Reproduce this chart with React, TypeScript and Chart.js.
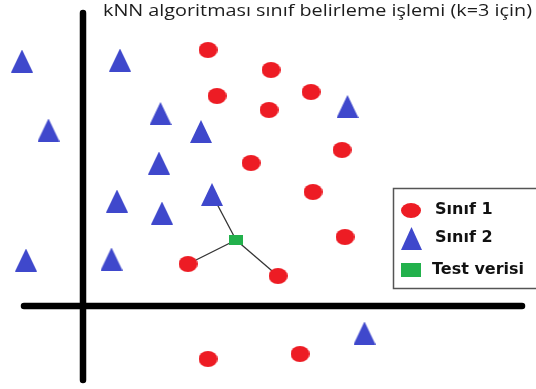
import React, { useEffect, useRef } from "react";
import { Chart, registerables } from "chart.js";
Chart.register(...registerables);

const TITLE = "kNN algoritması sınıf belirleme işlemi (k=3 için)";
const LABELS = ["Sınıf 1", "Sınıf 2", "Test verisi"];

// Class 1 (red) points
const sinif1X = [208, 271, 217, 311, 269, 342, 251, 313, 345, 188, 278, 208, 300];
const sinif1Y = [50, 70, 96, 92, 110, 150, 163, 192, 237, 264, 276, 359, 354];
// Class 2 (blue) points
const sinif2X = [22, 120, 48.5, 160.5, 201, 347.5, 159, 117, 162, 212, 26, 111.5, 364.5];
const sinif2Y = [61, 60, 130, 113.5, 131.5, 106.5, 163, 201, 213, 194.5, 260, 259, 333];
// Test point
const testX = [236];
const testY = [240];
// k=3 nearest neighbours: [class, index]
const neighbours: [number, number][] = [[2, 9], [1, 9], [1, 10]];

const RED = "#ed1c24";
const BLUE = "#3f48cc";
const GREEN = "#22b14c";

function makeIcon(kind: string, w: number, h: number, color: string) {
  const c = document.createElement("canvas");
  c.width = w;
  c.height = h;
  const ctx = c.getContext("2d")!;
  ctx.fillStyle = color;
  ctx.beginPath();
  if (kind === "ellipse") {
    ctx.ellipse(w / 2, h / 2, w / 2, h / 2, 0, 0, Math.PI * 2);
  } else if (kind === "triangle") {
    ctx.moveTo(w / 2, 0);
    ctx.lineTo(w, h);
    ctx.lineTo(0, h);
    ctx.closePath();
  } else {
    ctx.rect(0, 0, w, h);
  }
  ctx.fill();
  return c;
}

export default function App() {
  const ref = useRef<HTMLCanvasElement | null>(null);
  useEffect(() => {
    const redImg = makeIcon("ellipse", 19, 16, RED);
    const blueImg = makeIcon("triangle", 22, 23, BLUE);
    const greenImg = makeIcon("rect", 14, 10, GREEN);
    const redL = makeIcon("ellipse", 20, 15, RED);
    const blueL = makeIcon("triangle", 21, 23, BLUE);
    const greenL = makeIcon("rect", 20, 14, GREEN);

    const pts = (xs: number[], ys: number[]) => xs.map((x, i) => ({ x, y: ys[i] }));
    const s1 = pts(sinif1X, sinif1Y);
    const s2 = pts(sinif2X, sinif2Y);
    const t = pts(testX, testY);

    const neighbourSets = neighbours.map(([cls, idx]) => ({
      type: "line" as const,
      data: [t[0], cls === 1 ? s1[idx] : s2[idx]],
      borderColor: "#333",
      borderWidth: 1.3,
      pointRadius: 0,
      showLine: true,
      order: 2,
    }));

    const overlay = {
      id: "overlay",
      afterDraw(chart: any) {
        const ctx = chart.ctx;
        ctx.save();
        ctx.font = '16px "Open Sans"';
        ctx.fillStyle = "#1c1c1c";
        ctx.textAlign = "left";
        ctx.textBaseline = "alphabetic";
        const w = ctx.measureText(TITLE).width;
        const sx = 429 / w;
        ctx.translate(103, 16);
        ctx.scale(sx, 1);
        ctx.fillText(TITLE, 0, 0);
        ctx.restore();
        ctx.save();
        ctx.strokeStyle = "#555";
        ctx.lineWidth = 1.5;
        ctx.strokeRect(393.5, 188.5, 170, 100);
        const icons = [redL, blueL, greenL];
        const iy = [210, 238, 270];
        icons.forEach((img, i) => ctx.drawImage(img, Math.round(411 - img.width / 2), Math.round(iy[i] - img.height / 2)));
        ctx.font = 'bold 16px "DejaVu Sans"';
        ctx.fillStyle = "#111";
        ctx.textAlign = "left";
        ctx.textBaseline = "middle";
        LABELS.forEach((l, i) => ctx.fillText(l, i === 2 ? 432 : 435, iy[i]));
        ctx.restore();
      },
    };

    const chart = new Chart(ref.current!, {
      type: "scatter",
      data: {
        datasets: [
          { label: LABELS[2], data: t, pointStyle: greenImg as any, order: 1 },
          { label: LABELS[0], data: s1, pointStyle: redImg as any, order: 1 },
          { label: LABELS[1], data: s2, pointStyle: blueImg as any, order: 1 },
          ...neighbourSets,
          {
            type: "line",
            data: [{ x: 24, y: 306 }, { x: 522, y: 306 }],
            borderColor: "#000",
            borderWidth: 6.5,
            borderCapStyle: "round",
            pointRadius: 0,
            order: 3,
          },
          {
            type: "line",
            data: [{ x: 83, y: 13 }, { x: 83, y: 380 }],
            borderColor: "#000",
            borderWidth: 6.5,
            borderCapStyle: "round",
            pointRadius: 0,
            order: 3,
          },
        ] as any,
      },
      options: {
        animation: false,
        responsive: true,
        maintainAspectRatio: false,
        layout: { padding: 0, autoPadding: false },
        scales: {
          x: { type: "linear", min: 0, max: 536, display: false },
          y: { type: "linear", min: 0, max: 389, reverse: true, display: false },
        },
        plugins: { legend: { display: false }, tooltip: { enabled: false }, title: { display: false } },
      },
      plugins: [overlay],
    });
    return () => chart.destroy();
  }, []);
  return (
    <div style={{ position: "fixed", left: 0, top: 0, width: 536, height: 389, background: "#fff" }}>
      <canvas ref={ref} />
    </div>
  );
}
